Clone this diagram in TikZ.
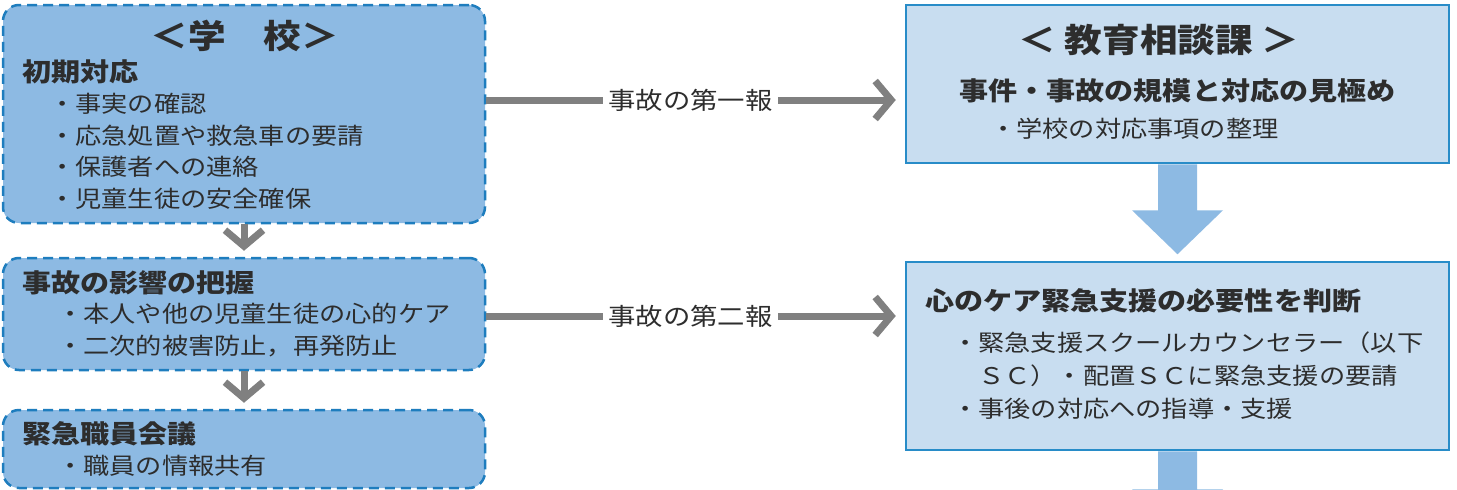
\documentclass[tikz,border=0pt]{standalone}
\usepackage{fontspec}
\setmainfont{Noto Sans CJK JP}[FakeStretch=1.14]
\usetikzlibrary{arrows.meta,calc}
\definecolor{lfill}{RGB}{141,186,227}
\definecolor{lborder}{RGB}{30,125,190}
\definecolor{rfill}{RGB}{200,221,240}
\definecolor{rborder}{RGB}{40,140,200}
\definecolor{garr}{RGB}{128,128,128}
\definecolor{tcol}{RGB}{45,45,45}
\newcommand\mytitlefont{\fontsize{33}{36}\selectfont\bfseries}
\newcommand\myheadfont{\fontsize{25.5}{28}\selectfont\bfseries}
\newcommand\mybodyfont{\fontsize{23}{26}\selectfont}
\newcommand\mylabfont{\fontsize{24}{26}\selectfont}
\begin{document}
\begin{tikzpicture}[x=1pt,y=-1pt,
  lbox/.style={draw=lborder,fill=lfill,line width=2.5pt,dash pattern=on 10pt off 6pt,rounded corners=16pt,minimum width=482pt,inner sep=0pt},
  rbox/.style={draw=rborder,fill=rfill,line width=2.5pt,minimum width=543pt,inner sep=0pt},
  txt/.style={inner sep=0pt,anchor=west,text=tcol},
  garrow/.style={draw=garr,line width=7pt,-{Straight Barb[length=16pt,width=38pt]}},
  lab/.style={fill=white,inner sep=5pt,text=tcol,font=\mylabfont},
  barrow/.style={fill=lfill,draw=none}]
\useasboundingbox[fill=white] (0,0) rectangle (1457,490);
\clip (0,0) rectangle (1457,490);

% left boxes
\node[lbox,minimum height=218pt] (b1) at (244,114) {};
\node[lbox,minimum height=112pt] (b2) at (244,314) {};
\node[lbox,minimum height=78pt] (b3) at (244,449) {};

% right boxes
\node[rbox,minimum height=158pt] (bA) at (1177.5,84) {};
\node[rbox,minimum height=188pt] (bB) at (1177.5,356) {};

% left texts
\node[txt,font=\mytitlefont,anchor=center] (t1) at (245,36) {＜学　校＞};
\node[txt,font=\myheadfont] (h1) at (22,72) {初期対応};
\node[txt,font=\mybodyfont] (i11) at (49,104) {・事実の確認};
\node[txt,font=\mybodyfont] (i12) at (49,136) {・応急処置や救急車の要請};
\node[txt,font=\mybodyfont] (i13) at (49,167) {・保護者への連絡};
\node[txt,font=\mybodyfont] (i14) at (49,199) {・児童生徒の安全確保};

\node[txt,font=\myheadfont] (h2) at (22,283) {事故の影響の把握};
\node[txt,font=\mybodyfont] (i21) at (57,314) {・本人や他の児童生徒の心的ケア};
\node[txt,font=\mybodyfont] (i22) at (57,346) {・二次的被害防止，再発防止};

\node[txt,font=\myheadfont] (h3) at (22,434) {緊急職員会議};
\node[txt,font=\mybodyfont] (i31) at (57,466) {・職員の情報共有};

% right texts
\node[txt,font=\mytitlefont,anchor=center] (t2) at (1159,40) {＜ 教育相談課 ＞};
\node[txt,font=\myheadfont,anchor=center] (hA) at (1177.5,91) {事件・事故の規模と対応の見極め};
\node[txt,font=\mybodyfont] (iA1) at (990,129) {・学校の対応事項の整理};

\node[txt,font=\myheadfont] (hB) at (925,301) {心のケア緊急支援の必要性を判断};
\node[txt,font=\mybodyfont] (iB1) at (952,343) {・緊急支援スクールカウンセラー（以下};
\node[txt,font=\mybodyfont] (iB2) at (978,376) {ＳＣ）・配置ＳＣに緊急支援の要請};
\node[txt,font=\mybodyfont] (iB3) at (952,409) {・事後の対応への指導・支援};

% gray down arrows
\draw[garrow,shorten >=6pt] (b1.south) -- (b2.north);
\draw[garrow,shorten >=6pt] (b2.south) -- (b3.north);

% horizontal arrows
\coordinate (r1) at (0,100);
\coordinate (r2) at (0,316);
\draw[garrow,shorten >=9pt] (b1.east |- r1) -- node[lab,pos=0.488] (l1) {事故の第一報} (bA.west |- r1);
\draw[garrow,shorten >=9pt] (b2.east |- r2) -- node[lab,pos=0.488] (l2) {事故の第二報} (bB.west |- r2);

% blue block arrows
\fill[barrow] ($(bA.south)+(-19.5,0)$) -- ++(0,46) -- ++(-26,0) -- ($(bA.south)+(0,90)$) -- ($(bA.south)+(45.5,46)$) -- ++(-26,0) -- ($(bA.south)+(19.5,0)$) -- cycle;
\fill[barrow] ($(bB.south)+(-19.5,0)$) -- ++(0,38) -- ++(-26,0) -- ($(bB.south)+(0,82)$) -- ($(bB.south)+(45.5,38)$) -- ++(-26,0) -- ($(bB.south)+(19.5,0)$) -- cycle;
\end{tikzpicture}
\end{document}
